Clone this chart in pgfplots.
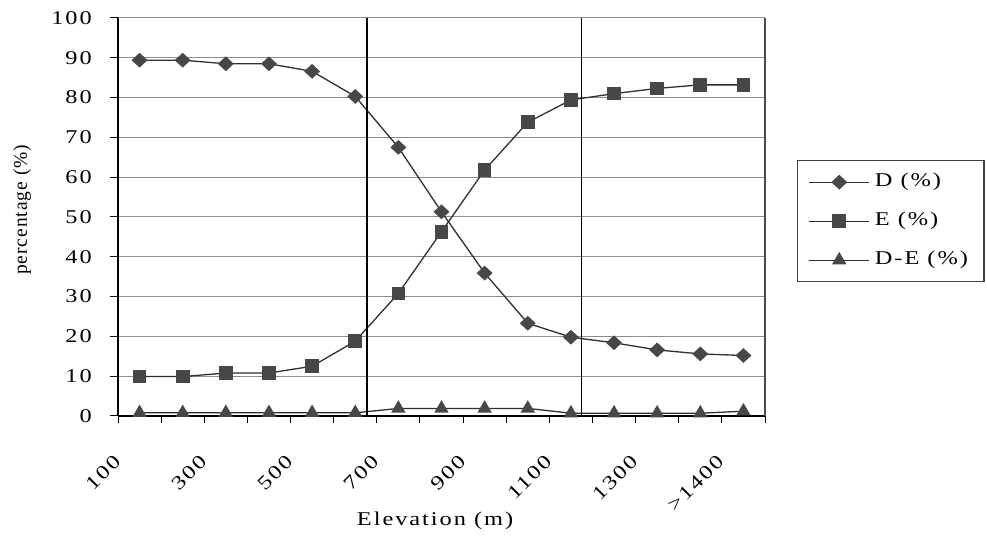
\documentclass[border=0pt]{standalone}
\usepackage{fontspec}
\setmainfont{Liberation Serif}[FakeStretch=1.25, LetterSpace=10]
\newfontfamily\ylfont{Liberation Serif}[LetterSpace=5]
\usepackage{pgfplots}
\usepackage{pgfplotstable}
\pgfplotsset{compat=1.18}
\definecolor{ln}{HTML}{2F2F2F}
\definecolor{mk}{HTML}{474747}
\definecolor{gridc}{HTML}{8C8C8C}
\newcommand{\bigf}{\fontsize{19.5}{23}\selectfont}
\newcommand{\tl}[1]{\mbox{\bigf #1}}
\pgfdeclareplotmark{dia}{%
  \pgfpathmoveto{\pgfqpoint{0pt}{6.5pt}}%
  \pgfpathlineto{\pgfqpoint{7pt}{0pt}}%
  \pgfpathlineto{\pgfqpoint{0pt}{-6.5pt}}%
  \pgfpathlineto{\pgfqpoint{-7pt}{0pt}}%
  \pgfpathclose\pgfusepathqfillstroke}

\pgfplotstableread{
x D E DE
0 89.4 9.9 0.8
1 89.4 9.9 0.8
2 88.5 10.8 0.8
3 88.5 10.8 0.8
4 86.6 12.5 0.8
5 80.3 18.8 0.8
6 67.5 30.8 1.9
7 51.3 46.3 1.9
8 35.9 61.8 1.9
9 23.3 73.8 1.9
10 19.8 79.4 0.7
11 18.4 81.0 0.7
12 16.6 82.3 0.7
13 15.6 83.2 0.7
14 15.2 83.2 1.2
}\datatable

\begin{document}
\bigf
\begin{tikzpicture}[font=\bigf]
\path[use as bounding box] (0,0) rectangle (987pt,540pt);
\begin{axis}[
  at={(118pt,124pt)}, anchor=south west,
  scale only axis, width=647pt, height=398pt,
  xmin=-0.5, xmax=14.5, ymin=0, ymax=100,
  axis lines=left, axis line style={-, black, line width=1.3pt},
  clip=false,
  xtick={0,2,...,14},
  xticklabels={\tl{100},\tl{300},\tl{500},\tl{700},\tl{900},\tl{1100},\tl{1300},\tl{>1400}},
  minor xtick={-0.5,0.5,...,14.5},
  ytick={0,10,...,100},
  yticklabels={\tl{0},\tl{10},\tl{20},\tl{30},\tl{40},\tl{50},\tl{60},\tl{70},\tl{80},\tl{90},\tl{100}},
  tick align=outside,
  major tick length=8pt, minor tick length=7pt,
  major x tick style={draw=none},
  minor x tick style={black, line width=1pt},
  major y tick style={black, line width=1pt},
  ymajorgrids, major grid style={gridc, line width=1pt},
  /pgf/number format/assume math mode=true,
  tick label style={font=\bigf},
  label style={font=\bigf},
  xticklabel style={inner sep=0pt, anchor=north east, xshift=-27pt, yshift=-29pt, rotate=45},
  yticklabel style={anchor=east, inner sep=0pt, xshift=-18pt},
  xlabel={Elevation (m)},
  ylabel={\ylfont percentage (\%)},
  xlabel style={at={(axis description cs:0.49,-0.264)}, anchor=center},
  ylabel style={at={(axis description cs:-0.148,0.518)}, anchor=center},
  legend style={at={(1.0495,0.643)}, anchor=north west, draw=black!75, line width=1.2pt,
    fill=white, inner xsep=11pt, inner ysep=7pt, row sep=10pt, font=\bigf,
    nodes={text height=14pt, text depth=5pt, inner sep=5pt},
    cells={anchor=west}},
  legend image code/.code={\draw[mark repeat=2,mark phase=2,#1] plot coordinates {(0pt,0pt)(30pt,0pt)(60pt,0pt)};},
]
\addplot[ln, line width=1.3pt, mark=dia, mark options={fill=mk, draw=mk, solid}] table[x=x,y=D]{\datatable};
\addlegendentry{D (\%)}
\addplot[ln, line width=1.3pt, mark=square*, mark size=6.2pt, mark options={fill=mk, draw=mk, solid}] table[x=x,y=E]{\datatable};
\addlegendentry{E (\%)}
\addplot[ln, line width=1.3pt, mark=triangle*, mark size=7pt, mark options={fill=mk, draw=mk, solid}] table[x=x,y=DE]{\datatable};
\addlegendentry{D-E (\%)}
\addplot[black, line width=1.4pt, forget plot] coordinates {(5.27,0) (5.27,100)};
\addplot[black, line width=1.4pt, forget plot] coordinates {(10.24,0) (10.24,100)};
\addplot[black!70, line width=1.2pt, forget plot] coordinates {(14.5,0) (14.5,100)};
\end{axis}
\end{tikzpicture}
\end{document}
